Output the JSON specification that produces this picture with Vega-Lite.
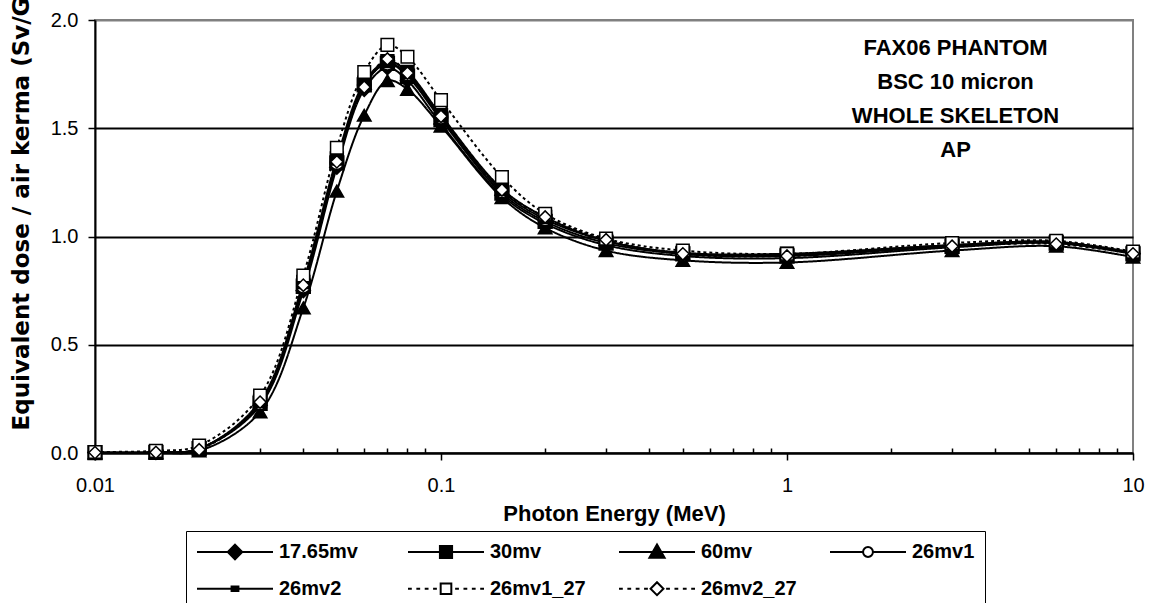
{
  "$schema": "https://vega.github.io/schema/vega-lite/v6.json",
  "width": 1038,
  "height": 433,
  "autosize": {"type": "none"},
  "padding": {"left": 95, "top": 20, "right": 17, "bottom": 150},
  "background": "white",
  "config": {
    "font": "Liberation Sans",
    "view": {"stroke": "#808080", "strokeWidth": 2}
  },
  "data": {"values": [
    {"s":"17.65mv","E":0.01,"v":0.002},{"s":"17.65mv","E":0.015,"v":0.003},{"s":"17.65mv","E":0.02,"v":0.02},{"s":"17.65mv","E":0.03,"v":0.22},{"s":"17.65mv","E":0.04,"v":0.75},{"s":"17.65mv","E":0.05,"v":1.32},{"s":"17.65mv","E":0.06,"v":1.68},{"s":"17.65mv","E":0.07,"v":1.78},{"s":"17.65mv","E":0.08,"v":1.72},{"s":"17.65mv","E":0.1,"v":1.52},{"s":"17.65mv","E":0.15,"v":1.19},{"s":"17.65mv","E":0.2,"v":1.06},{"s":"17.65mv","E":0.3,"v":0.96},{"s":"17.65mv","E":0.5,"v":0.91},{"s":"17.65mv","E":1,"v":0.9},{"s":"17.65mv","E":3,"v":0.95},{"s":"17.65mv","E":6,"v":0.97},{"s":"17.65mv","E":10,"v":0.92},
    {"s":"30mv","E":0.01,"v":0.002},{"s":"30mv","E":0.015,"v":0.003},{"s":"30mv","E":0.02,"v":0.02},{"s":"30mv","E":0.03,"v":0.23},{"s":"30mv","E":0.04,"v":0.77},{"s":"30mv","E":0.05,"v":1.34},{"s":"30mv","E":0.06,"v":1.7},{"s":"30mv","E":0.07,"v":1.8},{"s":"30mv","E":0.08,"v":1.74},{"s":"30mv","E":0.1,"v":1.54},{"s":"30mv","E":0.15,"v":1.2},{"s":"30mv","E":0.2,"v":1.07},{"s":"30mv","E":0.3,"v":0.97},{"s":"30mv","E":0.5,"v":0.92},{"s":"30mv","E":1,"v":0.91},{"s":"30mv","E":3,"v":0.955},{"s":"30mv","E":6,"v":0.97},{"s":"30mv","E":10,"v":0.92},
    {"s":"60mv","E":0.01,"v":0.001},{"s":"60mv","E":0.015,"v":0.002},{"s":"60mv","E":0.02,"v":0.01},{"s":"60mv","E":0.03,"v":0.19},{"s":"60mv","E":0.04,"v":0.67},{"s":"60mv","E":0.05,"v":1.21},{"s":"60mv","E":0.06,"v":1.56},{"s":"60mv","E":0.07,"v":1.72},{"s":"60mv","E":0.08,"v":1.68},{"s":"60mv","E":0.1,"v":1.51},{"s":"60mv","E":0.15,"v":1.18},{"s":"60mv","E":0.2,"v":1.04},{"s":"60mv","E":0.3,"v":0.935},{"s":"60mv","E":0.5,"v":0.89},{"s":"60mv","E":1,"v":0.88},{"s":"60mv","E":3,"v":0.935},{"s":"60mv","E":6,"v":0.955},{"s":"60mv","E":10,"v":0.905},
    {"s":"26mv1","E":0.01,"v":0.002},{"s":"26mv1","E":0.015,"v":0.003},{"s":"26mv1","E":0.02,"v":0.02},{"s":"26mv1","E":0.03,"v":0.23},{"s":"26mv1","E":0.04,"v":0.77},{"s":"26mv1","E":0.05,"v":1.34},{"s":"26mv1","E":0.06,"v":1.7},{"s":"26mv1","E":0.07,"v":1.8},{"s":"26mv1","E":0.08,"v":1.75},{"s":"26mv1","E":0.1,"v":1.55},{"s":"26mv1","E":0.15,"v":1.21},{"s":"26mv1","E":0.2,"v":1.08},{"s":"26mv1","E":0.3,"v":0.98},{"s":"26mv1","E":0.5,"v":0.92},{"s":"26mv1","E":1,"v":0.915},{"s":"26mv1","E":3,"v":0.96},{"s":"26mv1","E":6,"v":0.975},{"s":"26mv1","E":10,"v":0.925},
    {"s":"26mv2","E":0.01,"v":0.002},{"s":"26mv2","E":0.015,"v":0.003},{"s":"26mv2","E":0.02,"v":0.02},{"s":"26mv2","E":0.03,"v":0.24},{"s":"26mv2","E":0.04,"v":0.79},{"s":"26mv2","E":0.05,"v":1.36},{"s":"26mv2","E":0.06,"v":1.71},{"s":"26mv2","E":0.07,"v":1.81},{"s":"26mv2","E":0.08,"v":1.76},{"s":"26mv2","E":0.1,"v":1.56},{"s":"26mv2","E":0.15,"v":1.22},{"s":"26mv2","E":0.2,"v":1.09},{"s":"26mv2","E":0.3,"v":0.98},{"s":"26mv2","E":0.5,"v":0.925},{"s":"26mv2","E":1,"v":0.92},{"s":"26mv2","E":3,"v":0.96},{"s":"26mv2","E":6,"v":0.975},{"s":"26mv2","E":10,"v":0.925},
    {"s":"26mv1_27","E":0.01,"v":0.005},{"s":"26mv1_27","E":0.015,"v":0.01},{"s":"26mv1_27","E":0.02,"v":0.035},{"s":"26mv1_27","E":0.03,"v":0.265},{"s":"26mv1_27","E":0.04,"v":0.82},{"s":"26mv1_27","E":0.05,"v":1.41},{"s":"26mv1_27","E":0.06,"v":1.76},{"s":"26mv1_27","E":0.07,"v":1.885},{"s":"26mv1_27","E":0.08,"v":1.83},{"s":"26mv1_27","E":0.1,"v":1.63},{"s":"26mv1_27","E":0.15,"v":1.275},{"s":"26mv1_27","E":0.2,"v":1.105},{"s":"26mv1_27","E":0.3,"v":0.99},{"s":"26mv1_27","E":0.5,"v":0.935},{"s":"26mv1_27","E":1,"v":0.92},{"s":"26mv1_27","E":3,"v":0.97},{"s":"26mv1_27","E":6,"v":0.98},{"s":"26mv1_27","E":10,"v":0.93},
    {"s":"26mv2_27","E":0.01,"v":0.002},{"s":"26mv2_27","E":0.015,"v":0.003},{"s":"26mv2_27","E":0.02,"v":0.015},{"s":"26mv2_27","E":0.03,"v":0.235},{"s":"26mv2_27","E":0.04,"v":0.775},{"s":"26mv2_27","E":0.05,"v":1.345},{"s":"26mv2_27","E":0.06,"v":1.69},{"s":"26mv2_27","E":0.07,"v":1.82},{"s":"26mv2_27","E":0.08,"v":1.755},{"s":"26mv2_27","E":0.1,"v":1.555},{"s":"26mv2_27","E":0.15,"v":1.215},{"s":"26mv2_27","E":0.2,"v":1.09},{"s":"26mv2_27","E":0.3,"v":0.985},{"s":"26mv2_27","E":0.5,"v":0.92},{"s":"26mv2_27","E":1,"v":0.91},{"s":"26mv2_27","E":3,"v":0.955},{"s":"26mv2_27","E":6,"v":0.965},{"s":"26mv2_27","E":10,"v":0.92}
  ]},
  "encoding": {
    "x": {
      "field": "E", "type": "quantitative",
      "scale": {"type": "log", "domain": [0.01, 10], "nice": false},
      "axis": {
        "values": [0.01,0.02,0.03,0.04,0.05,0.06,0.07,0.08,0.09,0.1,0.2,0.3,0.4,0.5,0.6,0.7,0.8,0.9,1,2,3,4,5,6,7,8,9,10],
        "labelExpr": "datum.value == 0.01 ? '0.01' : datum.value == 0.1 ? '0.1' : datum.value == 1 ? '1' : datum.value == 10 ? '10' : ''",
        "tickSize": {"condition": {"test": "datum.value == 0.01 || datum.value == 0.1 || datum.value == 1 || datum.value == 10", "value": 7}, "value": -5},
        "tickColor": "black", "tickWidth": 1.5,
        "domainColor": "black", "domainWidth": 2,
        "grid": false,
        "labelFont": "Liberation Sans", "labelFontSize": 20, "labelColor": "black", "labelPadding": 15,
        "labelFlush": false, "labelOverlap": false,
        "title": "Photon Energy (MeV)",
        "titleFont": "Liberation Sans", "titleFontSize": 22, "titleFontWeight": "bold", "titleColor": "black", "titlePadding": 8
      }
    },
    "y": {
      "field": "v", "type": "quantitative",
      "scale": {"domain": [0, 2], "nice": false},
      "axis": {
        "values": [0, 0.5, 1, 1.5, 2],
        "format": ".1f",
        "grid": true,
        "gridColor": {"condition": {"test": "datum.value == 2", "value": "#808080"}, "value": "black"},
        "gridWidth": 2,
        "tickSize": 7, "tickColor": "black", "tickWidth": 1.5,
        "domainColor": "black", "domainWidth": 2,
        "labelFont": "Liberation Sans", "labelFontSize": 20, "labelColor": "black", "labelPadding": 10,
        "title": "Equivalent dose / air kerma (Sv/Gy)",
        "titleFont": "DejaVu Sans", "titleFontSize": 23, "titleFontWeight": "bold", "titleColor": "black",
        "titleAngle": 270, "titleAlign": "left", "titleBaseline": "alphabetic",
        "titleX": -67, "titleY": 410
      }
    }
  },
  "layer": [
    {
      "mark": {"type": "line", "interpolate": "catmull-rom", "color": "black", "strokeWidth": 2},
      "encoding": {
        "detail": {"field": "s"},
        "strokeDash": {
          "field": "s",
          "scale": {"domain": ["17.65mv","30mv","60mv","26mv1","26mv2","26mv1_27","26mv2_27"],
                    "range": [[1,0],[1,0],[1,0],[1,0],[1,0],[3,3],[3,3]]},
          "legend": null
        }
      }
    },
    {
      "mark": {"type": "point", "filled": true, "stroke": "black", "strokeWidth": 1.5, "opacity": 1},
      "encoding": {
        "shape": {
          "field": "s",
          "scale": {"domain": ["17.65mv","30mv","60mv","26mv1","26mv2","26mv1_27","26mv2_27"],
                    "range": ["diamond","square","triangle-up","circle","square","square","diamond"]},
          "legend": null
        },
        "fill": {
          "field": "s",
          "scale": {"domain": ["17.65mv","30mv","60mv","26mv1","26mv2","26mv1_27","26mv2_27"],
                    "range": ["black","black","black","white","black","white","white"]},
          "legend": null
        },
        "size": {
          "field": "s",
          "scale": {"domain": ["17.65mv","30mv","60mv","26mv1","26mv2","26mv1_27","26mv2_27"],
                    "range": [200, 150, 200, 100, 30, 200, 190]},
          "legend": null
        }
      }
    },
    {
      "mark": {"type": "point", "filled": true, "opacity": 0, "size": 5776},
      "encoding": {
        "shape": {
          "field": "s",
          "scale": {"domain": ["17.65mv","30mv","60mv","26mv1","26mv2","26mv1_27","26mv2_27"],
                    "range": [
                      "M-1,0H-0.19M0.19,0H1M0,-0.19L0.19,0L0,0.19L-0.19,0Z",
                      "M-1,0H-0.16M0.16,0H1M-0.16,-0.16H0.16V0.16H-0.16Z",
                      "M-1,0H-0.1M0.1,0H1M0,-0.2L0.2,0.15H-0.2Z",
                      "M-1,0H-0.13M0.13,0H1M0.13,0A0.13,0.13,0,1,1,-0.13,0A0.13,0.13,0,1,1,0.13,0Z",
                      "M-1,0H1M-0.09,-0.06H0.09V0.06H-0.09Z",
                      "M-1,0H-0.9M-0.78,0H-0.68M-0.56,0H-0.46M-0.34,0H-0.24M0.24,0H0.34M0.46,0H0.56M0.68,0H0.78M0.9,0H1M-0.14,-0.14H0.14V0.14H-0.14Z",
                      "M-1,0H-0.9M-0.78,0H-0.68M-0.56,0H-0.46M-0.34,0H-0.24M0.24,0H0.34M0.46,0H0.56M0.68,0H0.78M0.9,0H1M0,-0.17L0.17,0L0,0.17L-0.17,0Z"
                    ]},
          "legend": {
            "orient": "none", "legendX": 91, "legendY": 511, "direction": "horizontal",
            "columns": 4, "gridAlign": "all", "columnPadding": 32, "rowPadding": 14.7,
            "clipHeight": 22, "padding": 10,
            "strokeColor": "black", "fillColor": "white",
            "symbolSize": 5776, "symbolStrokeWidth": 2, "symbolOpacity": 1, "symbolOffset": 0,
            "labelFont": "Liberation Sans", "labelFontSize": 20, "labelFontWeight": "bold", "labelColor": "black",
            "labelOffset": 5, "labelLimit": 200,
            "title": null
          }
        },
        "fill": {
          "field": "s",
          "scale": {"domain": ["17.65mv","30mv","60mv","26mv1","26mv2","26mv1_27","26mv2_27"],
                    "range": ["black","black","black","white","black","white","white"]},
          "legend": {
            "orient": "none", "legendX": 91, "legendY": 511, "direction": "horizontal",
            "columns": 4, "gridAlign": "all", "columnPadding": 32, "rowPadding": 14.7,
            "clipHeight": 22, "padding": 10,
            "strokeColor": "black", "fillColor": "white",
            "symbolSize": 5776, "symbolStrokeWidth": 2, "symbolOpacity": 1, "symbolOffset": 0,
            "labelFont": "Liberation Sans", "labelFontSize": 20, "labelFontWeight": "bold", "labelColor": "black",
            "labelOffset": 5, "labelLimit": 200,
            "title": null
          }
        },
        "stroke": {
          "field": "s",
          "scale": {"domain": ["17.65mv","30mv","60mv","26mv1","26mv2","26mv1_27","26mv2_27"],
                    "range": ["black","black","black","black","black","black","black"]},
          "legend": {
            "orient": "none", "legendX": 91, "legendY": 511, "direction": "horizontal",
            "columns": 4, "gridAlign": "all", "columnPadding": 32, "rowPadding": 14.7,
            "clipHeight": 22, "padding": 10,
            "strokeColor": "black", "fillColor": "white",
            "symbolSize": 5776, "symbolStrokeWidth": 2, "symbolOpacity": 1, "symbolOffset": 0,
            "labelFont": "Liberation Sans", "labelFontSize": 20, "labelFontWeight": "bold", "labelColor": "black",
            "labelOffset": 5, "labelLimit": 200,
            "title": null
          }
        }
      }
    },
    {
      "data": {"values": [{"E": 3.07, "v": 1.915}]},
      "mark": {"type": "text", "text": ["FAX06 PHANTOM", "BSC 10 micron", "WHOLE SKELETON", "AP"],
               "font": "Liberation Sans", "fontSize": 22, "fontWeight": "bold", "color": "black",
               "align": "center", "baseline": "top", "lineHeight": 34}
    }
  ],
  "resolve": {"scale": {"shape": "independent", "fill": "independent", "stroke": "independent", "size": "independent", "strokeDash": "independent"}}
}
